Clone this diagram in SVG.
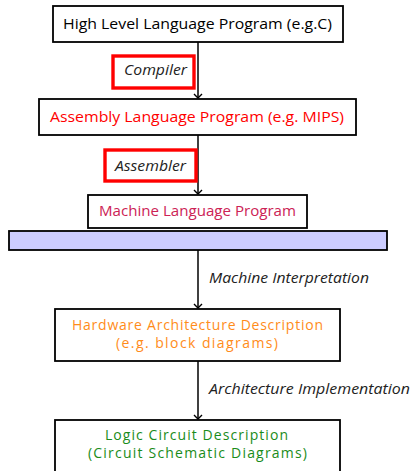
<svg xmlns="http://www.w3.org/2000/svg" width="412" height="471" viewBox="0 0 412 471">
<defs>
<marker id="arr" markerWidth="10" markerHeight="10" refX="5" refY="5" orient="auto" markerUnits="userSpaceOnUse" viewBox="0 0 10 10">
<path d="M1,1 L5,5 L1,9" fill="none" stroke="#000" stroke-width="1.4"/>
</marker>
<style>
.box{fill:#fff;stroke:#000;stroke-width:1.8}
.lbl{fill:#fff;stroke:#f00;stroke-width:3.4}
.t{font-family:"Open Sans","DejaVu Sans",sans-serif;font-size:14px}
.i{font-family:"Open Sans","DejaVu Sans",sans-serif;font-size:14px;font-style:italic;fill:#222}
.c{stroke:#000;stroke-width:1.5;fill:none}
</style>
</defs>
<rect width="412" height="471" fill="#fff"/>
<g id="connectors">
<line class="c" x1="198" y1="42" x2="198" y2="98" marker-end="url(#arr)"/>
<line class="c" x1="198" y1="135" x2="198" y2="194" marker-end="url(#arr)"/>
<line class="c" x1="198" y1="250" x2="198" y2="308" marker-end="url(#arr)"/>
<line class="c" x1="198" y1="361" x2="198" y2="419" marker-end="url(#arr)"/>
</g>
<g id="n1"><rect class="box" x="53" y="6" width="290" height="36"/><text class="t" x="63" y="29" textLength="269" lengthAdjust="spacingAndGlyphs">High Level Language Program (e.g.C)</text></g>
<g id="compiler"><rect class="lbl" x="113" y="56" width="81" height="32"/><text class="i" x="124" y="75" textLength="63" lengthAdjust="spacingAndGlyphs">Compiler</text></g>
<g id="n2"><rect class="box" x="39" y="99" width="317" height="36"/><text class="t" x="50" y="122" fill="#f00" textLength="294" lengthAdjust="spacingAndGlyphs">Assembly Language Program (e.g. MIPS)</text></g>
<g id="assembler"><rect class="lbl" x="105" y="150" width="91" height="31"/><text class="i" x="115" y="171" textLength="71" lengthAdjust="spacingAndGlyphs">Assembler</text></g>
<g id="n3"><rect class="box" x="88" y="195" width="219" height="33"/><text class="t" x="99" y="216" fill="#cc2255" textLength="197" lengthAdjust="spacingAndGlyphs">Machine Language Program</text></g>
<g id="bar"><rect x="9" y="231" width="378" height="19" fill="#ccccff" stroke="#000" stroke-width="1.8"/></g>
<g id="mi"><text class="i" x="209" y="283" textLength="160" lengthAdjust="spacingAndGlyphs">Machine Interpretation</text></g>
<g id="n4"><rect class="box" x="55" y="309" width="285" height="52"/>
<text class="t" x="72" y="330" fill="#ff8c1a" textLength="251" lengthAdjust="spacing">Hardware Architecture Description</text>
<text class="t" x="116" y="348" fill="#ff8c1a" textLength="162" lengthAdjust="spacing">(e.g.  block diagrams)</text></g>
<g id="ai"><text class="i" x="209" y="394" textLength="201" lengthAdjust="spacingAndGlyphs">Architecture Implementation</text></g>
<g id="n5"><rect class="box" x="55" y="420" width="285" height="60"/>
<text class="t" x="105" y="440" fill="#1a8c1a" textLength="183" lengthAdjust="spacing">Logic Circuit Description</text>
<text class="t" x="88" y="458" fill="#1a8c1a" textLength="219" lengthAdjust="spacing">(Circuit Schematic Diagrams)</text></g>
</svg>
